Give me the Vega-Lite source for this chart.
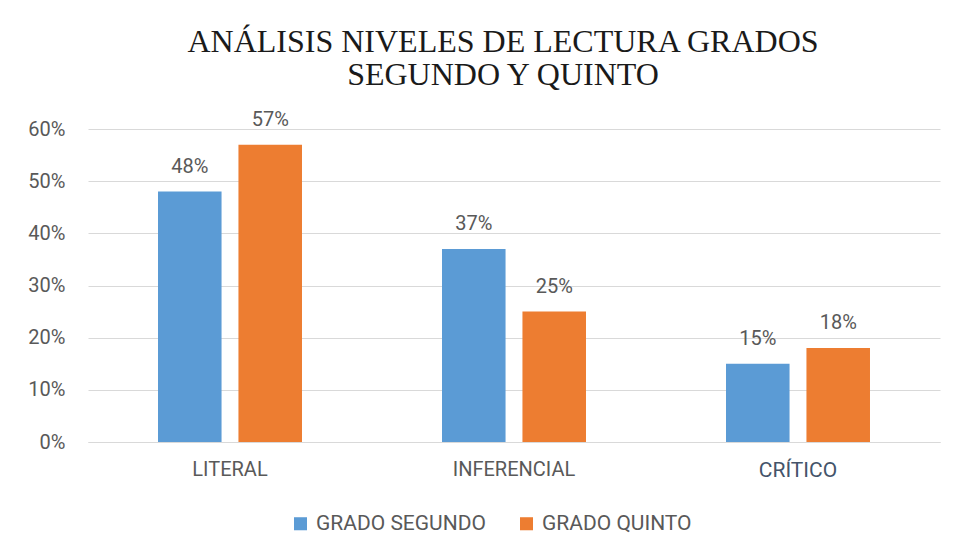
{
  "$schema": "https://vega.github.io/schema/vega-lite/v6.json",
  "width": 852,
  "height": 313,
  "autosize": "none",
  "padding": {"left": 88, "top": 129, "right": 18, "bottom": 116},
  "background": "white",
  "config": {"view": {"stroke": null}},
  "title": {
    "text": ["ANÁLISIS NIVELES DE LECTURA GRADOS", "SEGUNDO Y QUINTO"],
    "font": "Liberation Serif",
    "fontSize": 32,
    "fontWeight": "normal",
    "color": "#1a1a1a",
    "anchor": "middle",
    "dx": -11,
    "offset": 18,
    "lineHeight": 33
  },
  "data": {
    "values": [
      {"nivel": "LITERAL", "grado": "GRADO SEGUNDO", "valor": 0.48},
      {"nivel": "LITERAL", "grado": "GRADO QUINTO", "valor": 0.57},
      {"nivel": "INFERENCIAL", "grado": "GRADO SEGUNDO", "valor": 0.37},
      {"nivel": "INFERENCIAL", "grado": "GRADO QUINTO", "valor": 0.25},
      {"nivel": "CRÍTICO", "grado": "GRADO SEGUNDO", "valor": 0.15},
      {"nivel": "CRÍTICO", "grado": "GRADO QUINTO", "valor": 0.18}
    ]
  },
  "encoding": {
    "x": {
      "field": "nivel",
      "type": "nominal",
      "sort": ["LITERAL", "INFERENCIAL", "CRÍTICO"],
      "scale": {"paddingInner": 0.493, "paddingOuter": 0.2465},
      "axis": {
        "title": null,
        "labelAngle": 0,
        "ticks": false,
        "grid": false,
        "domainColor": "#d9d9d9",
        "labelPadding": 17,
        "labelFont": "Roboto",
        "labelFontSize": {"expr": "datum.label == 'CRÍTICO' ? 21 : 20"},
        "labelColor": {"expr": "datum.label == 'CRÍTICO' ? '#44546A' : '#595959'"}
      }
    },
    "xOffset": {
      "field": "grado",
      "type": "nominal",
      "sort": ["GRADO SEGUNDO", "GRADO QUINTO"],
      "scale": {"paddingInner": 0.21, "paddingOuter": 0}
    },
    "y": {
      "field": "valor",
      "type": "quantitative",
      "scale": {"domain": [0, 0.6]},
      "axis": {
        "title": null,
        "format": ".0%",
        "values": [0, 0.1, 0.2, 0.3, 0.4, 0.5, 0.6],
        "domain": false,
        "ticks": false,
        "gridColor": "#d9d9d9",
        "labelPadding": 23,
        "labelFont": "Roboto",
        "labelFontSize": 20,
        "labelColor": "#595959"
      }
    }
  },
  "layer": [
    {
      "mark": {"type": "bar"},
      "encoding": {
        "color": {
          "field": "grado",
          "type": "nominal",
          "sort": ["GRADO SEGUNDO", "GRADO QUINTO"],
          "scale": {"domain": ["GRADO SEGUNDO", "GRADO QUINTO"], "range": ["#5B9BD5", "#ED7D31"]},
          "legend": {
            "title": null,
            "orient": "none",
            "legendX": 202,
            "legendY": 384,
            "direction": "horizontal",
            "symbolType": "square",
            "symbolSize": 170,
            "symbolStrokeWidth": 0,
            "labelFont": "Roboto",
            "labelFontSize": 21,
            "labelLimit": 400,
            "labelColor": "#595959",
            "labelOffset": 5,
            "columnPadding": 30
          }
        }
      }
    },
    {
      "mark": {
        "type": "text",
        "baseline": "middle",
        "dy": -25,
        "font": "Roboto",
        "fontSize": 20,
        "color": "#595959"
      },
      "encoding": {
        "text": {"field": "valor", "type": "quantitative", "format": ".0%"}
      }
    }
  ]
}
